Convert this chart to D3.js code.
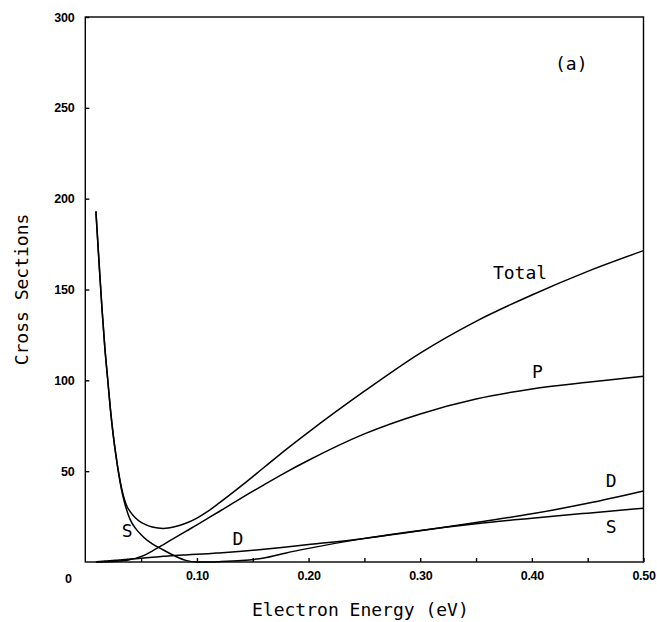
<!DOCTYPE html>
<html>
<head>
<meta charset="utf-8">
<script src="https://cdn.jsdelivr.net/npm/d3@7"></script>
<style>
    body { margin: 0; background: white; }
    .tick-label { font-family: "Liberation Sans", Arial, sans-serif; font-weight: bold; font-size: 12.5px; letter-spacing: -0.3px; }
    .plot-text { font-family: "DejaVu Sans Mono", monospace; font-size: 18px; }
</style>
</head>
<body>
<div class="graph-goes-here"></div>
<script>
// energies in eV, shared by every curve
var energy = [0.0095, 0.0125, 0.015, 0.0175, 0.02, 0.0225, 0.025, 0.0275, 0.03, 0.0325, 0.035, 0.0375,
    0.04, 0.045, 0.05, 0.055, 0.06, 0.07, 0.08, 0.09, 0.10, 0.11, 0.12, 0.14, 0.16, 0.18, 0.20,
    0.25, 0.30, 0.35, 0.40, 0.45, 0.50];

var totalCross = [193, 163, 139, 118, 101, 84, 70, 58.5, 48.6, 40.6, 34.6, 30.4,
    27.9, 24.2, 21.8, 20.3, 19.3, 18.5, 19.4, 21.3, 24.2, 28.0, 32.5, 42, 52, 62, 71.5,
    94, 115, 132.5, 147, 160, 171.4];
var pWave = [0, 0.02, 0.05, 0.1, 0.15, 0.22, 0.3, 0.4, 0.5, 0.65, 0.8, 1.0,
    1.3, 2.0, 3.0, 4.3, 6.0, 9.6, 13.3, 16.9, 20.4, 24.1, 27.8, 35.3, 42.5, 49.5, 56,
    70.5, 81.5, 89.7, 95.2, 98.9, 102.2];
var sWave = [193, 163, 139, 118, 101, 84, 70, 58.3, 48.2, 39.6, 33, 27.8,
    23.6, 18.5, 15, 12.2, 10, 6.6, 3.4, 0.9, 0, 0.03, 0.2, 0.8, 2.2, 5.0, 7.5,
    13.0, 17.4, 21.1, 24.1, 26.9, 29.6];
var dWave = [0.1, 0.25, 0.35, 0.5, 0.6, 0.7, 0.85, 0.95, 1.1, 1.2, 1.35, 1.45,
    1.6, 1.85, 2.1, 2.35, 2.6, 3.1, 3.55, 3.9, 4.25, 4.6, 5.0, 5.9, 7.0, 8.3, 9.6,
    13.0, 17.2, 21.8, 26.5, 32.3, 39.1];

var xTicks = [0.05, 0.10, 0.15, 0.20, 0.25, 0.30, 0.35, 0.40, 0.45, 0.50];
var yTicks = [50, 100, 150, 200, 250, 300];

// curve labels: text and where it sits (energy, cross section)
var labelText = ["Total", "P", "D", "S", "S", "D"];
var labelE = [0.3894, 0.405, 0.471, 0.471, 0.0374, 0.1368];
var labelV = [155.8, 101.3, 41.3, 16, 13.8, 9.4];

var margin = { top: 17, right: 13.5, bottom: 60, left: 85.3 },
    width = 657 - margin.left - margin.right,
    height = 622 - margin.top - margin.bottom;

var svg = d3.select(".graph-goes-here")
    .append("svg")
    .attr("width", 657)
    .attr("height", 622)
    .append("g")
    .attr("transform", "translate(" + margin.left + "," + margin.top + ")");

var xScale = d3.scaleLinear().domain([0, 0.5]).range([0, width]);
var yScale = d3.scaleLinear().domain([0, 300]).range([height, 0]);

// frame
svg.append("rect")
    .attr("width", width)
    .attr("height", height)
    .attr("fill", "none")
    .attr("stroke", "black")
    .attr("stroke-width", 1.4);

var xAxis = svg.append("g")
    .attr("transform", "translate(0," + height + ")")
    .call(d3.axisBottom(xScale).tickValues(xTicks).tickSize(-4).tickSizeOuter(0).tickPadding(9)
        .tickFormat(d => Math.round(d * 100) % 10 == 0 ? d3.format(".2f")(d) : ""));

var yAxis = svg.append("g")
    .call(d3.axisLeft(yScale).tickValues(yTicks).tickSize(-4).tickSizeOuter(0).tickPadding(11));

[xAxis, yAxis].forEach(ax => {
    ax.select(".domain").remove();
    ax.selectAll(".tick line").attr("stroke", "black").attr("stroke-width", 1.4);
    ax.selectAll(".tick text").attr("class", "tick-label").attr("fill", "black");
});
xAxis.selectAll(".tick text").attr("dy", "0.75em");

// the shared corner zero
svg.append("text")
    .attr("class", "tick-label")
    .attr("x", xScale(0) - 17)
    .attr("y", height + 21)
    .attr("text-anchor", "middle")
    .text("0");

var line = d3.line()
    .x((d, i) => xScale(energy[i]))
    .y(d => yScale(d))
    .curve(d3.curveMonotoneX);

[totalCross, pWave, sWave, dWave].forEach(series => {
    svg.append("path")
        .datum(series)
        .attr("fill", "none")
        .attr("stroke", "black")
        .attr("stroke-width", 1.5)
        .attr("d", line);
});

svg.selectAll(".curve-label")
    .data(labelText)
    .enter()
    .append("text")
    .attr("class", "plot-text")
    .attr("text-anchor", "middle")
    .attr("x", (d, i) => xScale(labelE[i]))
    .attr("y", (d, i) => yScale(labelV[i]))
    .text(d => d);

svg.append("text")
    .attr("class", "plot-text")
    .attr("text-anchor", "middle")
    .attr("x", 486)
    .attr("y", 53)
    .text("(a)");

svg.append("text")
    .attr("class", "plot-text")
    .attr("text-anchor", "middle")
    .attr("x", width / 2 - 4)
    .attr("y", height + 54)
    .text("Electron Energy (eV)");

svg.append("text")
    .attr("class", "plot-text")
    .attr("text-anchor", "middle")
    .attr("transform", "translate(" + (28 - margin.left) + "," + (height / 2) + ") rotate(-90)")
    .text("Cross Sections");
</script>
</body>
</html>
